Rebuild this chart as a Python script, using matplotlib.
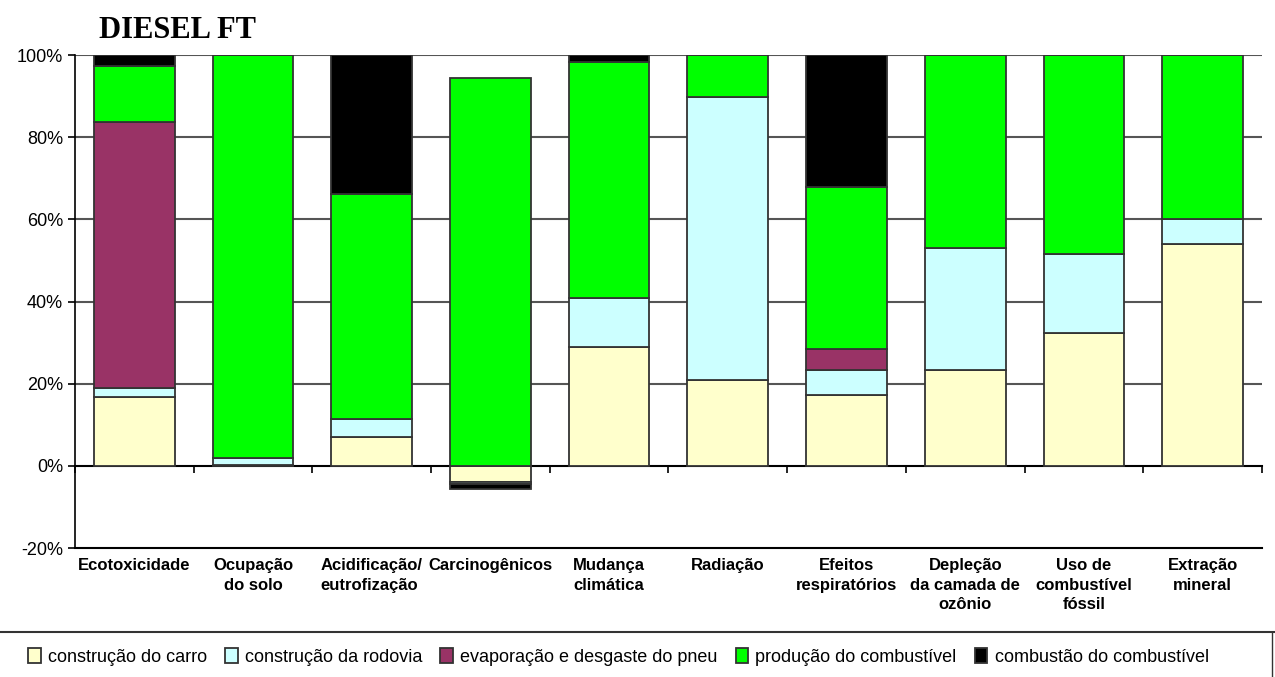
import numpy as np
import matplotlib
matplotlib.use("Agg")
import matplotlib.pyplot as plt
from matplotlib.lines import Line2D

categorias = ["Ecotoxicidade", "Ocupação\ndo solo", "Acidificação/\neutrofização",
              "Carcinogênicos", "Mudança\nclimática", "Radiação", "Efeitos\nrespiratórios",
              "Depleção\nda camada de\nozônio", "Uso de\ncombustível\nfóssil", "Extração\nmineral"]

series = ["construção do carro", "construção da rodovia", "evaporação e desgaste do pneu",
          "produção do combustível", "combustão do combustível"]

carro = [16.8, 0.2, 7.1, -4.0, 29.0, 20.9, 17.3, 23.4, 32.4, 54.0]
rodovia = [2.2, 1.6, 4.3, -0.5, 11.9, 68.9, 6.1, 29.6, 19.2, 6.1]
pneu = [64.7, 0.0, 0.0, 0.0, 0.0, 0.0, 5.1, 0.0, 0.0, 0.0]
producao = [13.6, 98.2, 54.8, 94.4, 57.4, 10.2, 39.4, 47.0, 48.4, 39.9]
combustao = [2.7, 0.0, 33.8, -1.2, 1.7, 0.0, 32.1, 0.0, 0.0, 0.0]

cores = ["#FFFFCC", "#CCFFFF", "#993366", "#00FF00", "#000000"]
yticks = [-20, 0, 20, 40, 60, 80, 100]

fig = plt.figure(figsize=(12.75, 6.77), dpi=100)
ax = fig.add_axes([0.0588, 0.1905, 0.931, 0.728])

x = np.arange(len(categorias))
pos = np.zeros(len(x))
neg = np.zeros(len(x))
for vals, cor, nome in zip([carro, rodovia, pneu, producao, combustao], cores, series):
    v = np.array(vals)
    base = np.where(v >= 0, pos, neg)
    ax.bar(x, v, 0.68, bottom=base, color=cor, edgecolor="#333333", linewidth=1.3,
           label=nome, zorder=3)
    pos = pos + np.where(v > 0, v, 0)
    neg = neg + np.where(v < 0, v, 0)

ax.set_xlim(-0.5, len(x) - 0.5)
ax.set_ylim(-20, 100)
ax.set_yticks(yticks)
ax.set_yticklabels([f"{t}%" for t in yticks], fontsize=13, family="Liberation Sans")
for t in yticks[2:]:
    ax.axhline(t, color="#555555", linewidth=1.5, zorder=1)

for s in ["top", "right"]:
    ax.spines[s].set_visible(False)
ax.spines["left"].set_linewidth(1.2)
ax.spines["bottom"].set_linewidth(1.5)
ax.tick_params(axis="y", length=5, width=1.2)
ax.set_xticks(x)
ax.set_xticklabels(categorias, fontsize=12, fontweight="bold",
                   family="Liberation Sans", linespacing=1.4)
ax.tick_params(axis="x", length=0, pad=7)
ax.get_xticklabels()[2].set_multialignment("left")

# linha do zero com marcas entre as categorias
sec = ax.secondary_xaxis(20 / 120)
sec.set_xticks(np.arange(len(x) + 1) - 0.5)
sec.set_xticklabels([])
sec.tick_params(length=5, width=1.2, direction="out")
sec.spines["bottom"].set_linewidth(1.5)

fig.text(0.078, 0.944, "DIESEL FT", fontsize=22, fontweight="bold",
         family="Liberation Serif")

fig.add_artist(Line2D([0.0, 1.0], [0.0665, 0.0665], color="#333333", linewidth=1.5))
fig.add_artist(Line2D([0.998, 0.998], [0.0, 0.0665], color="#333333", linewidth=1.0))

fig.legend(loc="center", bbox_to_anchor=(0.485, 0.03), ncol=5, frameon=False,
           prop={"family": "Liberation Sans", "size": 13},
           handlelength=0.7, handleheight=0.9, handletextpad=0.4, columnspacing=1.0)

fig.savefig("out.png", dpi=100)
